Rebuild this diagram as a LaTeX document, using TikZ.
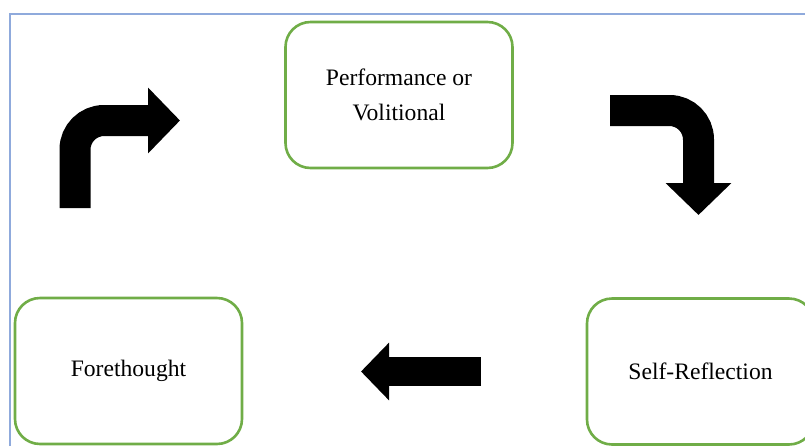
\documentclass[tikz,border=0pt]{standalone}
\usepackage{fontspec}
\setmainfont{Liberation Serif}
\usepackage{xcolor}
\usepackage{tikz}
\usetikzlibrary{arrows.meta,positioning}
\definecolor{phasegreen}{HTML}{70AD47}
\definecolor{framebl}{HTML}{8FAADC}

\begin{document}
\begin{tikzpicture}[
    x=0.5pt, y=-0.5pt,
    phase/.style  = {rectangle, rounded corners=12.5pt, draw=phasegreen,
                     line width=1.3pt, fill=white, align=center,
                     minimum width=113.5pt, minimum height=73pt,
                     font=\fontsize{11.8}{17.5}\selectfont},
    frame/.style  = {draw=framebl, line width=0.8pt},
    bigarrow/.style = {draw=black, line width=15.5pt, rounded corners=14.5pt,
                     -{Triangle[length=16pt, width=32pt]}},
    smallarrow/.style = {draw=black, line width=14.5pt,
                     -{Triangle[length=14pt, width=28pt]}},
]
  \useasboundingbox (0,0) rectangle (805,446);

  % outer frame
  \draw[frame] (10,446) -- (10,14) -- (805,14);

  % phases
  \node[phase] (perf)    at (399,95)    {Performance or\\Volitional};
  \node[phase] (fore)    at (128.5,371) {Forethought};
  \node[phase] (selfref) at (700.5,371.5) {Self-Reflection};

  % arrow ends
  \coordinate (fstart) at (75,208);
  \coordinate (fend)   at (180,120.5);
  \coordinate (pstart) at (610,110.5);
  \coordinate (pend)   at (698.5,215);
  \coordinate (sstart) at (481,371.5);
  \coordinate (send)   at (361,371.5);

  % cycle
  \draw[bigarrow] (fstart) |- (fend);
  \draw[bigarrow] (pstart) -| (pend);
  \draw[smallarrow] (sstart) -- (send);

\end{tikzpicture}
\end{document}
